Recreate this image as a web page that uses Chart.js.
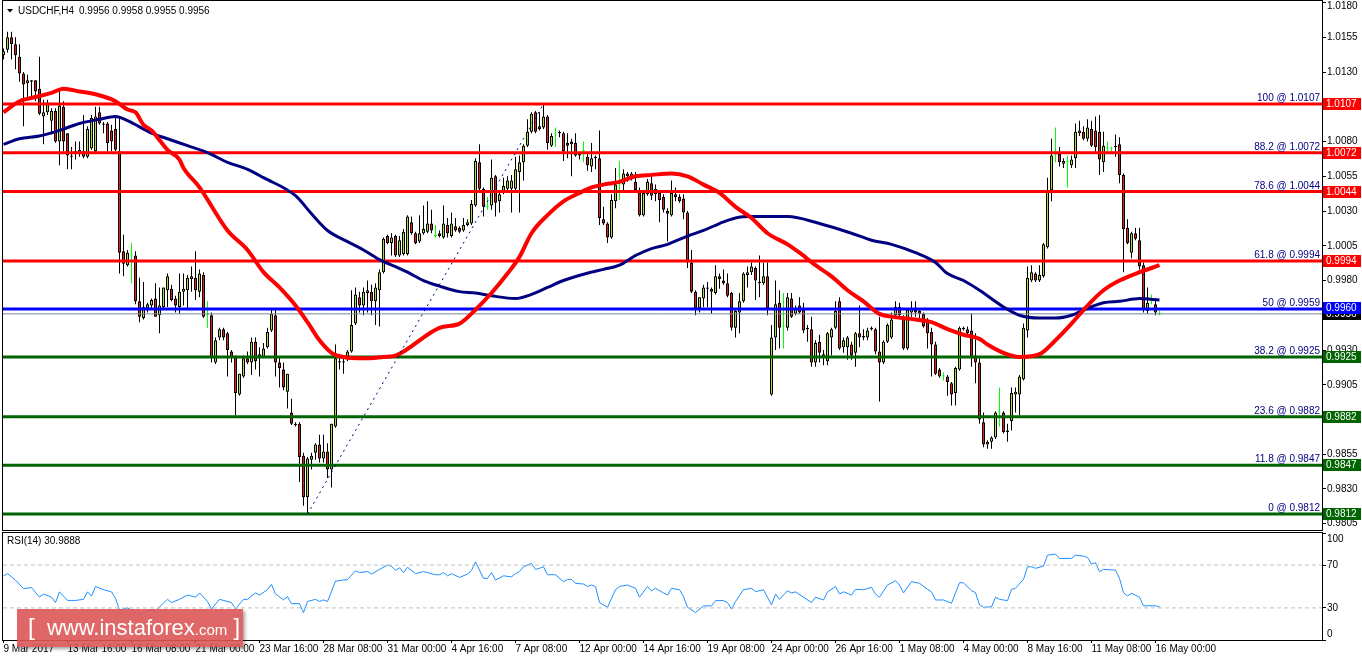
<!DOCTYPE html>
<html>
<head>
<meta charset="utf-8">
<script src="https://cdn.jsdelivr.net/npm/chart.js@4.4.0/dist/chart.umd.min.js"></script>
<style>
  html, body { margin: 0; padding: 0; background: #fff; }
  body { width: 1362px; height: 661px; position: relative; overflow: hidden; font-family: 'Liberation Sans', Arial, sans-serif; }
  #price { position: absolute; left: 0; top: 0; }
  #rsi { position: absolute; left: 0; top: 531px; }
  .stamp {
    position: absolute; left: 17px; top: 609px; width: 226px; height: 38px;
    background: rgba(221, 86, 86, 0.9); box-shadow: 2px 2px 3px rgba(0, 0, 0, 0.35);
    color: #fff; white-space: nowrap; line-height: 36px; padding-left: 11px; box-sizing: border-box;
    font-family: 'Liberation Sans', Arial, sans-serif; font-size: 22px;
  }
  .stamp .br { font-size: 24px; font-weight: 300; }
  .stamp .com { font-size: 15px; }
</style>
</head>
<body>
<canvas id="price" width="1362" height="531"></canvas>
<canvas id="rsi" width="1362" height="130"></canvas>
<div class="stamp"><span class="br">[</span>&nbsp; www.instaforex<span class="com">.com</span>&nbsp;<span class="br">]</span></div>
<script>
// USDCHF H4 candles, bar 0 = 9 Mar 2017 00:00
const opens = [
  1.0142, 1.0146, 1.0155, 1.0150, 1.0141, 1.0129, 1.0122, 1.0123, 1.0124, 1.0118,
  1.0098, 1.0101, 1.0095, 1.0102, 1.0080, 1.0105, 1.0086, 1.0070, 1.0073, 1.0072,
  1.0073, 1.0069, 1.0075, 1.0073, 1.0101, 1.0093, 1.0093, 1.0088, 1.0089, 1.0073,
  1.0001, 0.9991, 0.9998, 0.9998, 0.9965, 0.9953, 0.9960, 0.9962, 0.9967, 0.9955,
  0.9961, 0.9973, 0.9974, 0.9967, 0.9961, 0.9972, 0.9973, 0.9981, 0.9982, 0.9972,
  0.9984, 0.9955, 0.9955, 0.9921, 0.9939, 0.9945, 0.9942, 0.9929, 0.9925, 0.9898,
  0.9911, 0.9924, 0.9921, 0.9936, 0.9927, 0.9925, 0.9932, 0.9944, 0.9955, 0.9921,
  0.9916, 0.9900, 0.9885, 0.9877, 0.9877, 0.9854, 0.9824, 0.9851, 0.9856, 0.9862,
  0.9852, 0.9857, 0.9844, 0.9875, 0.9922, 0.9922, 0.9924, 0.9929, 0.9949, 0.9968,
  0.9962, 0.9971, 0.9972, 0.9965, 0.9973, 0.9986, 1.0012, 1.0007, 1.0012, 0.9998,
  0.9999, 0.9999, 1.0022, 1.0014, 1.0008, 1.0014, 1.0015, 1.0021, 1.0012, 1.0014,
  1.0011, 1.0020, 1.0012, 1.0019, 1.0018, 1.0016, 1.0020, 1.0021, 1.0034, 1.0065,
  1.0046, 1.0033, 1.0034, 1.0055, 1.0037, 1.0043, 1.0046, 1.0046, 1.0046, 1.0058,
  1.0065, 1.0077, 1.0087, 1.0101, 1.0091, 1.0090, 1.0098, 1.0077, 1.0085, 1.0087,
  1.0086, 1.0079, 1.0080, 1.0079, 1.0071, 1.0073, 1.0069, 1.0062, 1.0069, 1.0068,
  1.0024, 1.0021, 1.0011, 1.0037, 1.0049, 1.0049, 1.0057, 1.0055, 1.0051, 1.0045,
  1.0027, 1.0042, 1.0050, 1.0042, 1.0043, 1.0040, 1.0030, 1.0027, 1.0042, 1.0040,
  1.0039, 1.0029, 0.9993, 0.9972, 0.9960, 0.9967, 0.9974, 0.9974, 0.9971, 0.9983,
  0.9980, 0.9978, 0.9971, 0.9946, 0.9957, 0.9965, 0.9984, 0.9986, 0.9989, 0.9979,
  0.9978, 0.9983, 0.9898, 0.9939, 0.9964, 0.9947, 0.9946, 0.9967, 0.9956, 0.9962,
  0.9959, 0.9945, 0.9945, 0.9921, 0.9936, 0.9927, 0.9922, 0.9939, 0.9946, 0.9965,
  0.9932, 0.9932, 0.9934, 0.9928, 0.9942, 0.9939, 0.9939, 0.9945, 0.9945, 0.9929,
  0.9921, 0.9936, 0.9939, 0.9955, 0.9961, 0.9954, 0.9931, 0.9957, 0.9959, 0.9958,
  0.9956, 0.9952, 0.9943, 0.9934, 0.9916, 0.9911, 0.9911, 0.9906, 0.9899, 0.9916,
  0.9945, 0.9945, 0.9944, 0.9926, 0.9921, 0.9878, 0.9862, 0.9864, 0.9867, 0.9885,
  0.9885, 0.9872, 0.9879, 0.9898, 0.9898, 0.9909, 0.9944, 0.9980, 0.9985, 0.9980,
  0.9983, 1.0004, 1.0045, 1.0070, 1.0071, 1.0064, 1.0065, 1.0063, 1.0068, 1.0086,
  1.0087, 1.0082, 1.0089, 1.0088, 1.0087, 1.0065, 1.0075, 1.0075, 1.0077, 1.0078,
  1.0056, 1.0018, 1.0000, 1.0014, 1.0009, 0.9991, 0.9958, 0.9965, 0.9963, 0.9956
];
const highs = [
  1.0147, 1.0159, 1.0159, 1.0155, 1.0150, 1.0130, 1.0128, 1.0124, 1.0124, 1.0141,
  1.0110, 1.0110, 1.0104, 1.0104, 1.0117, 1.0109, 1.0086, 1.0076, 1.0080, 1.0080,
  1.0099, 1.0091, 1.0099, 1.0105, 1.0105, 1.0094, 1.0094, 1.0092, 1.0097, 1.0097,
  1.0013, 1.0002, 1.0007, 1.0001, 0.9982, 0.9979, 0.9964, 0.9967, 0.9978, 0.9975,
  0.9975, 0.9985, 0.9977, 0.9969, 0.9985, 0.9985, 0.9984, 0.9990, 1.0001, 0.9988,
  0.9986, 0.9965, 0.9957, 0.9939, 0.9946, 0.9946, 0.9943, 0.9930, 0.9926, 0.9913,
  0.9926, 0.9929, 0.9939, 0.9939, 0.9932, 0.9935, 0.9946, 0.9959, 0.9959, 0.9925,
  0.9921, 0.9913, 0.9895, 0.9878, 0.9878, 0.9856, 0.9853, 0.9856, 0.9863, 0.9869,
  0.9869, 0.9863, 0.9877, 0.9934, 0.9925, 0.9925, 0.9930, 0.9973, 0.9975, 0.9972,
  0.9975, 0.9980, 0.9977, 0.9978, 0.9988, 1.0011, 1.0013, 1.0014, 1.0013, 1.0012,
  1.0017, 1.0027, 1.0026, 1.0015, 1.0027, 1.0034, 1.0037, 1.0031, 1.0020, 1.0016,
  1.0034, 1.0025, 1.0029, 1.0025, 1.0019, 1.0025, 1.0024, 1.0038, 1.0068, 1.0078,
  1.0047, 1.0040, 1.0067, 1.0056, 1.0044, 1.0054, 1.0055, 1.0056, 1.0069, 1.0070,
  1.0078, 1.0096, 1.0101, 1.0102, 1.0101, 1.0107, 1.0099, 1.0086, 1.0090, 1.0088,
  1.0087, 1.0086, 1.0082, 1.0086, 1.0072, 1.0080, 1.0071, 1.0079, 1.0070, 1.0088,
  1.0033, 1.0022, 1.0042, 1.0061, 1.0066, 1.0060, 1.0058, 1.0058, 1.0058, 1.0047,
  1.0044, 1.0053, 1.0055, 1.0049, 1.0044, 1.0042, 1.0032, 1.0052, 1.0047, 1.0042,
  1.0042, 1.0030, 1.0002, 0.9973, 0.9968, 0.9977, 0.9979, 0.9975, 0.9991, 0.9985,
  0.9988, 0.9985, 0.9972, 0.9959, 0.9971, 0.9986, 0.9990, 0.9993, 0.9990, 0.9998,
  0.9993, 0.9993, 0.9948, 0.9980, 0.9973, 0.9971, 0.9971, 0.9971, 0.9962, 0.9968,
  0.9964, 0.9948, 0.9954, 0.9937, 0.9941, 0.9930, 0.9943, 0.9946, 0.9965, 0.9968,
  0.9939, 0.9940, 0.9936, 0.9943, 0.9962, 0.9945, 0.9946, 0.9947, 0.9946, 0.9954,
  0.9937, 0.9949, 0.9957, 0.9965, 0.9964, 0.9955, 0.9960, 0.9965, 0.9965, 0.9960,
  0.9957, 0.9953, 0.9946, 0.9936, 0.9917, 0.9914, 0.9912, 0.9907, 0.9918, 0.9947,
  0.9947, 0.9947, 0.9956, 0.9942, 0.9924, 0.9885, 0.9865, 0.9868, 0.9886, 0.9903,
  0.9886, 0.9877, 0.9903, 0.9903, 0.9912, 0.9949, 0.9990, 0.9991, 0.9986, 0.9991,
  1.0007, 1.0054, 1.0082, 1.0090, 1.0076, 1.0068, 1.0070, 1.0070, 1.0093, 1.0095,
  1.0091, 1.0096, 1.0095, 1.0098, 1.0099, 1.0087, 1.0080, 1.0076, 1.0085, 1.0083,
  1.0057, 1.0024, 1.0015, 1.0018, 1.0018, 0.9993, 0.9975, 0.9970, 0.9966, 0.9958
];
const lows = [
  1.0139, 1.0144, 1.0139, 1.0132, 1.0123, 1.0091, 1.0112, 1.0112, 1.0109, 1.0099,
  1.0078, 1.0099, 1.0085, 1.0079, 1.0063, 1.0073, 1.0060, 1.0060, 1.0067, 1.0069,
  1.0068, 1.0068, 1.0074, 1.0072, 1.0092, 1.0086, 1.0073, 1.0073, 1.0073, 0.9985,
  0.9983, 0.9990, 0.9978, 0.9963, 0.9950, 0.9952, 0.9957, 0.9960, 0.9954, 0.9942,
  0.9960, 0.9961, 0.9965, 0.9957, 0.9956, 0.9962, 0.9960, 0.9972, 0.9966, 0.9968,
  0.9953, 0.9946, 0.9921, 0.9920, 0.9937, 0.9937, 0.9911, 0.9921, 0.9883, 0.9897,
  0.9910, 0.9920, 0.9912, 0.9916, 0.9911, 0.9924, 0.9931, 0.9943, 0.9911, 0.9903,
  0.9901, 0.9888, 0.9876, 0.9875, 0.9835, 0.9818, 0.9812, 0.9844, 0.9851, 0.9849,
  0.9849, 0.9838, 0.9831, 0.9874, 0.9916, 0.9913, 0.9922, 0.9928, 0.9948, 0.9957,
  0.9955, 0.9957, 0.9955, 0.9948, 0.9947, 0.9985, 1.0006, 0.9998, 0.9997, 0.9997,
  0.9998, 0.9998, 1.0013, 1.0006, 1.0007, 1.0013, 1.0014, 1.0014, 1.0011, 1.0011,
  1.0010, 1.0011, 1.0011, 1.0015, 1.0014, 1.0015, 1.0019, 1.0020, 1.0033, 1.0045,
  1.0026, 1.0031, 1.0031, 1.0026, 1.0029, 1.0042, 1.0045, 1.0029, 1.0045, 1.0029,
  1.0052, 1.0076, 1.0086, 1.0086, 1.0088, 1.0089, 1.0074, 1.0076, 1.0076, 1.0083,
  1.0066, 1.0068, 1.0055, 1.0069, 1.0067, 1.0065, 1.0059, 1.0058, 1.0060, 1.0020,
  1.0020, 1.0007, 1.0010, 1.0032, 1.0038, 1.0045, 1.0051, 1.0052, 1.0044, 1.0026,
  1.0026, 1.0041, 1.0038, 1.0037, 1.0022, 1.0029, 1.0008, 1.0026, 1.0037, 1.0036,
  1.0024, 0.9989, 0.9971, 0.9955, 0.9957, 0.9961, 0.9961, 0.9956, 0.9970, 0.9974,
  0.9977, 0.9968, 0.9944, 0.9939, 0.9942, 0.9964, 0.9975, 0.9984, 0.9966, 0.9968,
  0.9977, 0.9955, 0.9897, 0.9930, 0.9931, 0.9931, 0.9944, 0.9953, 0.9955, 0.9956,
  0.9942, 0.9936, 0.9918, 0.9918, 0.9921, 0.9919, 0.9919, 0.9926, 0.9945, 0.9930,
  0.9928, 0.9923, 0.9923, 0.9918, 0.9932, 0.9937, 0.9937, 0.9944, 0.9927, 0.9893,
  0.9920, 0.9935, 0.9938, 0.9954, 0.9954, 0.9930, 0.9930, 0.9954, 0.9954, 0.9953,
  0.9946, 0.9931, 0.9911, 0.9912, 0.9910, 0.9908, 0.9897, 0.9890, 0.9890, 0.9915,
  0.9944, 0.9941, 0.9918, 0.9906, 0.9877, 0.9860, 0.9859, 0.9859, 0.9866, 0.9875,
  0.9870, 0.9864, 0.9872, 0.9885, 0.9883, 0.9908, 0.9939, 0.9979, 0.9979, 0.9979,
  0.9982, 1.0003, 1.0037, 1.0065, 1.0062, 1.0061, 1.0047, 1.0061, 1.0061, 1.0084,
  1.0081, 1.0080, 1.0076, 1.0072, 1.0056, 1.0058, 1.0073, 1.0072, 1.0069, 1.0050,
  0.9986, 1.0006, 0.9996, 1.0009, 0.9988, 0.9957, 0.9956, 0.9963, 0.9955, 0.9955
];
const closes = [
  1.0145, 1.0155, 1.0150, 1.0142, 1.0129, 1.0121, 1.0124, 1.0124, 1.0116, 1.0100,
  1.0101, 1.0108, 1.0102, 1.0080, 1.0106, 1.0080, 1.0070, 1.0069, 1.0072, 1.0074,
  1.0069, 1.0089, 1.0097, 1.0098, 1.0093, 1.0092, 1.0079, 1.0080, 1.0074, 1.0000,
  0.9992, 1.0000, 0.9998, 0.9965, 0.9954, 0.9961, 0.9963, 0.9966, 0.9954, 0.9962,
  0.9975, 0.9983, 0.9966, 0.9962, 0.9972, 0.9974, 0.9982, 0.9983, 0.9973, 0.9985,
  0.9954, 0.9955, 0.9924, 0.9937, 0.9945, 0.9939, 0.9930, 0.9925, 0.9899, 0.9913,
  0.9924, 0.9921, 0.9936, 0.9922, 0.9925, 0.9931, 0.9943, 0.9956, 0.9921, 0.9917,
  0.9903, 0.9913, 0.9877, 0.9876, 0.9853, 0.9824, 0.9852, 0.9854, 0.9862, 0.9852,
  0.9857, 0.9844, 0.9877, 0.9924, 0.9921, 0.9921, 0.9929, 0.9948, 0.9970, 0.9962,
  0.9972, 0.9973, 0.9965, 0.9975, 0.9986, 1.0010, 1.0007, 1.0011, 0.9998, 1.0009,
  1.0015, 1.0026, 1.0014, 1.0007, 1.0014, 1.0017, 1.0021, 1.0016, 1.0012, 1.0012,
  1.0021, 1.0014, 1.0021, 1.0016, 1.0015, 1.0020, 1.0022, 1.0035, 1.0066, 1.0046,
  1.0033, 1.0033, 1.0054, 1.0036, 1.0042, 1.0048, 1.0052, 1.0052, 1.0060, 1.0065,
  1.0077, 1.0087, 1.0100, 1.0087, 1.0089, 1.0098, 1.0079, 1.0084, 1.0085, 1.0086,
  1.0073, 1.0077, 1.0078, 1.0070, 1.0070, 1.0073, 1.0063, 1.0068, 1.0068, 1.0025,
  1.0021, 1.0011, 1.0038, 1.0049, 1.0049, 1.0057, 1.0055, 1.0057, 1.0045, 1.0027,
  1.0043, 1.0051, 1.0041, 1.0046, 1.0038, 1.0031, 1.0028, 1.0043, 1.0040, 1.0037,
  1.0029, 0.9993, 0.9972, 0.9960, 0.9968, 0.9975, 0.9975, 0.9972, 0.9983, 0.9981,
  0.9978, 0.9969, 0.9946, 0.9958, 0.9965, 0.9985, 0.9986, 0.9990, 0.9980, 0.9978,
  0.9983, 0.9960, 0.9939, 0.9963, 0.9946, 0.9947, 0.9968, 0.9954, 0.9960, 0.9957,
  0.9944, 0.9946, 0.9921, 0.9935, 0.9928, 0.9924, 0.9942, 0.9945, 0.9958, 0.9931,
  0.9937, 0.9939, 0.9926, 0.9942, 0.9939, 0.9940, 0.9944, 0.9946, 0.9929, 0.9921,
  0.9936, 0.9948, 0.9952, 0.9961, 0.9955, 0.9931, 0.9959, 0.9960, 0.9957, 0.9956,
  0.9947, 0.9942, 0.9934, 0.9913, 0.9911, 0.9911, 0.9907, 0.9898, 0.9917, 0.9946,
  0.9946, 0.9942, 0.9925, 0.9921, 0.9880, 0.9862, 0.9864, 0.9867, 0.9885, 0.9885,
  0.9871, 0.9871, 0.9899, 0.9900, 0.9911, 0.9946, 0.9982, 0.9986, 0.9980, 0.9984,
  1.0006, 1.0044, 1.0070, 1.0070, 1.0065, 1.0066, 1.0065, 1.0067, 1.0087, 1.0088,
  1.0082, 1.0090, 1.0077, 1.0076, 1.0067, 1.0077, 1.0075, 1.0075, 1.0076, 1.0056,
  1.0017, 1.0007, 1.0014, 1.0010, 0.9990, 0.9959, 0.9964, 0.9965, 0.9957, 0.9956
];

// moving averages at some bars
const redMaIdx = [0, 4, 8, 12, 15, 19, 23, 28, 31, 33, 35, 37, 39, 41, 44, 45, 49, 56, 61, 65, 69, 73, 76, 79, 82, 85, 90, 95, 98, 109, 114, 118, 122, 126, 129, 132, 136, 140, 144, 147, 150, 154, 158, 162, 167, 171, 175, 179, 183, 187, 191, 196, 199, 203, 207, 211, 215, 219, 222, 228, 232, 236, 240, 244, 246, 250, 254, 259, 263, 267, 271, 275, 279, 284, 289];
const redMaVal = [1.0101, 1.0109, 1.0112, 1.0115, 1.0118, 1.0116, 1.0114, 1.0109, 1.0103, 1.0101, 1.0092, 1.0088, 1.0081, 1.0074, 1.0067, 1.0061, 1.0047, 1.0016, 1.0002, 0.9986, 0.9975, 0.9962, 0.9950, 0.9937, 0.9928, 0.9925, 0.9924, 0.9925, 0.9926, 0.9946, 0.9949, 0.9959, 0.9971, 0.9985, 0.9997, 1.0014, 1.0027, 1.0037, 1.0043, 1.0047, 1.0049, 1.0051, 1.0055, 1.0056, 1.0057, 1.0055, 1.0049, 1.0043, 1.0033, 1.0025, 1.0014, 1.0006, 1.0000, 0.9991, 0.9983, 0.9973, 0.9965, 0.9956, 0.9954, 0.9952, 0.9950, 0.9945, 0.9941, 0.9938, 0.9934, 0.9928, 0.9925, 0.9927, 0.9937, 0.9949, 0.9962, 0.9973, 0.9980, 0.9986, 0.9991];
const blueMaIdx = [0, 4, 9, 14, 19, 24, 28, 31, 37, 41, 46, 51, 56, 61, 65, 73, 77, 81, 86, 90, 94, 98, 101, 105, 109, 114, 118, 122, 128, 132, 136, 140, 147, 150, 154, 158, 162, 166, 171, 175, 179, 183, 187, 191, 196, 204, 212, 217, 222, 228, 233, 236, 240, 244, 250, 254, 259, 263, 267, 271, 275, 279, 284, 289];
const blueMaVal = [1.0078, 1.0082, 1.0084, 1.0088, 1.0093, 1.0096, 1.0098, 1.0095, 1.0086, 1.0082, 1.0077, 1.0072, 1.0065, 1.0060, 1.0054, 1.0041, 1.0028, 1.0016, 1.0008, 1.0002, 0.9995, 0.9990, 0.9986, 0.9980, 0.9976, 0.9972, 0.9971, 0.9969, 0.9967, 0.9970, 0.9975, 0.9980, 0.9986, 0.9988, 0.9991, 0.9998, 1.0003, 1.0006, 1.0012, 1.0016, 1.0021, 1.0025, 1.0026, 1.0026, 1.0026, 1.0021, 1.0014, 1.0009, 1.0006, 1.0000, 0.9993, 0.9985, 0.9980, 0.9973, 0.9961, 0.9955, 0.9953, 0.9953, 0.9955, 0.9960, 0.9964, 0.9965, 0.9967, 0.9966];

// RSI(14)
const rsiIdx = [0, 1, 3, 5, 7, 9, 10, 12, 13, 14, 16, 18, 20, 21, 22, 23, 25, 27, 28, 29, 31, 34, 36, 38, 41, 42, 44, 46, 48, 49, 51, 52, 54, 57, 58, 60, 61, 63, 64, 66, 67, 68, 70, 71, 72, 74, 75, 76, 78, 79, 80, 81, 83, 86, 88, 89, 91, 92, 94, 96, 97, 98, 99,
  100, 101, 103, 105, 108, 109, 110, 111, 112, 114, 116, 117, 118, 120, 121, 122, 123, 125, 127, 128, 129, 130, 132, 133, 134, 135, 136, 138, 140, 141, 142, 143, 145, 146, 147, 148, 149, 151, 153, 154, 156, 158, 159, 161, 162, 163, 165, 166, 167, 169, 170, 171, 173, 175, 177, 178, 180, 181, 182, 183, 185, 187, 188, 190, 192, 193, 194, 196, 197, 198,
  200, 202, 203, 205, 206, 208, 209, 210, 212, 213, 215, 217, 218, 219, 221, 223, 224, 225, 227, 229, 231, 232, 233, 235, 237, 239, 240, 242, 243, 244, 245, 247, 248, 249, 251, 252, 253, 255, 256, 257, 258, 260, 261, 263, 264, 267, 268, 270, 271, 272, 273, 274, 275, 278, 279, 280, 281, 282, 284, 285, 288, 289];
const rsiVal = [60, 62, 56, 48, 49, 40, 43, 40, 35, 45, 37, 37, 38, 45, 41, 50, 47, 45, 39, 28, 30, 23.5, 27.5, 27.5, 38, 35, 38, 42, 40, 44, 36, 29, 38, 35, 29, 38, 38, 44, 42, 47, 52, 43, 37.5, 40.5, 34, 34, 25.6, 36, 38, 36, 37.5, 36, 55, 56.5, 64.7, 63, 64, 61.6, 66, 70, 69, 65, 67.5,
  63, 68, 62, 64, 61, 61, 63, 60, 62, 58.5, 61.6, 65, 73, 57.6, 57.6, 63, 56, 60, 59, 62, 64, 68.5, 71.6, 66, 67, 68.5, 61, 61, 54.5, 56.6, 56.6, 53, 52.3, 50, 51.4, 50, 35, 30.6, 47, 50, 51.4, 48.3, 40, 50, 45.8, 48.3, 44, 42, 48.3, 47, 40.5, 30.6, 25.6, 31.9, 31.9, 36.8, 36.8, 35, 28.8, 35.9, 47, 48.3, 45.2, 47, 32.8, 43, 38, 46, 44, 45,
  40, 35, 40, 37.4, 45, 50, 43, 45, 42, 47.4, 47, 49.2, 43, 40, 51.4, 55.4, 51.4, 44, 54.5, 53, 47.4, 45, 37.4, 37.4, 34.4, 53.5, 53.5, 46, 44.3, 32.8, 30.6, 31, 40, 38, 36.8, 47.4, 48.3, 56.6, 68.4, 68.4, 67, 69, 79.3, 80.2, 76.2, 76.2, 79.3, 78.4, 77.2, 71, 72.2, 63.8, 66, 65.3, 57.6, 44.2, 41.2, 43.7, 40, 32, 32, 31];

// time axis: a label every 16 bars
const tickIdx = [0, 16, 32, 48, 64, 80, 96, 112, 128, 144, 160, 176, 192, 208, 224, 240, 256, 272, 288];
const tickLabels = ['9 Mar 2017', '13 Mar 16:00', '16 Mar 08:00', '21 Mar 00:00', '23 Mar 16:00', '28 Mar 08:00',
  '31 Mar 00:00', '4 Apr 16:00', '7 Apr 08:00', '12 Apr 00:00', '14 Apr 16:00', '19 Apr 08:00', '24 Apr 00:00',
  '26 Apr 16:00', '1 May 08:00', '4 May 00:00', '8 May 16:00', '11 May 08:00', '16 May 00:00'];

const priceTicks = [0.9805, 0.9830, 0.9855, 0.9880, 0.9905, 0.9930, 0.9955, 0.9980, 1.0005, 1.0030, 1.0055, 1.0080, 1.0105, 1.0130, 1.0155, 1.0180];

// fibonacci retracement (0 @ 0.9812 .. 100 @ 1.0107)
const fibLevels = ['100', '88.2', '78.6', '61.8', '50', '38.2', '23.6', '11.8', '0'];
const fibPrices = [1.0107, 1.0072, 1.0044, 0.9994, 0.99595, 0.9925, 0.9882, 0.9847, 0.9812];
const fibShown = ['1.0107', '1.0072', '1.0044', '0.9994', '0.9959', '0.9925', '0.9882', '0.9847', '0.9812'];
const fibTags = ['1.0107', '1.0072', '1.0044', '0.9994', '0.9960', '0.9925', '0.9882', '0.9847', '0.9812'];
const fibColors = ['#ff0000', '#ff0000', '#ff0000', '#ff0000', '#0000ff', '#006400', '#006400', '#006400', '#006400'];
const trendFrom = [76, 0.9812];
const trendTo = [135, 1.0107];
const lastPrice = 0.9956;

const xMin = -0.125, xMax = 329.625;
const FONT = "'Liberation Sans', Arial, sans-serif";
Chart.defaults.font.family = FONT;
Chart.defaults.font.size = 10;
Chart.defaults.color = '#000';

const upFill = '#a8e03a', downFill = '#e01c1c', dojiColor = '#00ff00';
const isDoji = i => opens[i] === closes[i];

const wickData = opens.map((o, i) => ({ x: i, y: [lows[i], highs[i]] }));
const bodyData = opens.map((o, i) => ({ x: i, y: [o, closes[i]] }));
const hline = v => [{ x: xMin, y: v }, { x: xMax, y: v }];

// keep the plot box fixed, labels may hang over the edges
const noPad = s => { s.paddingTop = 0; s.paddingBottom = 0; s.paddingLeft = 0; s.paddingRight = 0; };

const fibSets = fibPrices.map((p, k) => ({
  type: 'line', data: hline(p), borderColor: fibColors[k], borderWidth: 3,
  pointRadius: 0, order: 2
}));

const priceOverlay = {
  id: 'priceOverlay',
  afterDraw(chart) {
    const { ctx, chartArea: a, scales: { y } } = chart;
    ctx.save();
    // frame
    ctx.strokeStyle = '#000';
    ctx.lineWidth = 1;
    ctx.strokeRect(2.5, 0.5, 1320, 530);
    // header
    ctx.fillStyle = '#000';
    ctx.beginPath();
    ctx.moveTo(7, 9); ctx.lineTo(13, 9); ctx.lineTo(10, 12.5); ctx.closePath(); ctx.fill();
    ctx.font = '10px ' + FONT;
    ctx.textBaseline = 'middle';
    ctx.textAlign = 'left';
    ctx.fillText('USDCHF,H4', 18, 11);
    ctx.fillText('0.9956 0.9958 0.9955 0.9956', 79, 11);
    // top axis label sits just under the frame
    ctx.fillText(priceTicks[priceTicks.length - 1].toFixed(4), a.right + 5, 6);
    // fib level captions
    ctx.fillStyle = '#000080';
    ctx.textAlign = 'right';
    ctx.textBaseline = 'alphabetic';
    fibPrices.forEach((p, k) => {
      const py = y.getPixelForValue(p);
      ctx.fillText(fibLevels[k] + ' @ ' + fibShown[k], a.right - 2, py - 3);
    });
    // price tags on the axis
    ctx.textAlign = 'left';
    ctx.textBaseline = 'middle';
    const tag = (v, txt, bg) => {
      const py = Math.round(y.getPixelForValue(v));
      ctx.fillStyle = bg;
      ctx.fillRect(a.right + 1, py - 6, 38, 12);
      ctx.fillStyle = '#fff';
      ctx.fillText(txt, a.right + 4, py + 0.5);
    };
    tag(lastPrice, '0.9956', '#000');
    fibPrices.forEach((p, k) => tag(k === 4 ? 0.9960 : p, fibTags[k], fibColors[k]));
    ctx.restore();
  }
};

new Chart(document.getElementById('price'), {
  type: 'line',
  data: {
    datasets: [
      { type: 'line', data: [{ x: trendFrom[0], y: trendFrom[1] }, { x: trendTo[0], y: trendTo[1] }],
        borderColor: '#000080', borderWidth: 1, borderDash: [2, 4], pointRadius: 0, order: 0 },
      { type: 'line', data: redMaIdx.map((x, k) => ({ x, y: redMaVal[k] })), borderColor: '#ff0000',
        borderWidth: 4, pointRadius: 0, cubicInterpolationMode: 'monotone', order: 1 },
      { type: 'line', data: blueMaIdx.map((x, k) => ({ x, y: blueMaVal[k] })), borderColor: '#000080',
        borderWidth: 3, pointRadius: 0, cubicInterpolationMode: 'monotone', order: 1 },
      ...fibSets,
      { type: 'line', data: hline(lastPrice), borderColor: '#778899', borderWidth: 1, pointRadius: 0, order: 3 },
      { type: 'bar', data: bodyData, barThickness: 3, grouped: false, inflateAmount: 0, minBarLength: 1,
        borderSkipped: false, borderWidth: 1,
        backgroundColor: bodyData.map((d, i) => isDoji(i) ? dojiColor : (closes[i] > opens[i] ? upFill : downFill)),
        borderColor: bodyData.map((d, i) => isDoji(i) ? dojiColor : '#000'), order: 5 },
      { type: 'bar', data: wickData, barThickness: 1, grouped: false, inflateAmount: 0, borderWidth: 0,
        backgroundColor: wickData.map((d, i) => isDoji(i) ? dojiColor : '#000'), order: 6 }
    ]
  },
  options: {
    responsive: false, animation: false, devicePixelRatio: 1,
    layout: { padding: { left: 3, top: 1, right: 0, bottom: 1 } },
    plugins: { legend: { display: false }, tooltip: { enabled: false } },
    events: [],
    scales: {
      x: { type: 'linear', min: xMin, max: xMax, offset: false, display: false },
      y: {
        type: 'linear', position: 'right', min: 0.98005, max: 1.01811, beginAtZero: false,
        afterBuildTicks: s => { s.ticks = priceTicks.map(v => ({ value: v })); },
        afterFit: s => { s.width = 40; noPad(s); },
        grid: { drawOnChartArea: false, tickLength: 4, color: '#000' },
        border: { color: '#000' },
        ticks: { autoSkip: false, padding: 1, color: '#000',
          callback: v => v === priceTicks[priceTicks.length - 1] ? '' : v.toFixed(4) }
      }
    }
  },
  plugins: [priceOverlay]
});

const rsiOverlay = {
  id: 'rsiOverlay',
  afterDraw(chart) {
    const { ctx, scales: { y } } = chart;
    ctx.save();
    ctx.strokeStyle = '#000';
    ctx.lineWidth = 1;
    ctx.strokeRect(2.5, 1.5, 1320, 108);
    ctx.fillStyle = '#000';
    ctx.font = '10px ' + FONT;
    ctx.textBaseline = 'middle';
    ctx.textAlign = 'left';
    ctx.fillText('RSI(14) 30.9888', 7, 10);
    ctx.fillText('100', 1327, y.getPixelForValue(100) + 6);
    ctx.fillText('0', 1327, y.getPixelForValue(0) - 6);
    ctx.restore();
  }
};

new Chart(document.getElementById('rsi'), {
  type: 'line',
  data: {
    datasets: [
      { data: hline(70), borderColor: '#c0c0c0', borderWidth: 1, borderDash: [4, 3], pointRadius: 0 },
      { data: hline(30), borderColor: '#c0c0c0', borderWidth: 1, borderDash: [4, 3], pointRadius: 0 },
      { data: rsiIdx.map((x, k) => ({ x, y: rsiVal[k] })), borderColor: '#1e90ff', borderWidth: 1,
        pointRadius: 0, tension: 0 }
    ]
  },
  options: {
    responsive: false, animation: false, devicePixelRatio: 1,
    layout: { padding: { left: 3, top: 2, right: 0, bottom: 0 } },
    plugins: { legend: { display: false }, tooltip: { enabled: false } },
    events: [],
    scales: {
      x: {
        type: 'linear', min: xMin, max: xMax, offset: false,
        afterBuildTicks: s => { s.ticks = tickIdx.map(v => ({ value: v })); },
        afterFit: s => { s.height = 21; noPad(s); },
        grid: { drawOnChartArea: false, tickLength: 3, color: '#000' },
        border: { color: '#000' },
        ticks: { autoSkip: false, maxRotation: 0, align: 'start', padding: 0, color: '#000',
          callback: v => tickLabels[tickIdx.indexOf(v)] }
      },
      y: {
        type: 'linear', position: 'right', min: 0, max: 100,
        afterBuildTicks: s => { s.ticks = [0, 30, 70, 100].map(v => ({ value: v })); },
        afterFit: s => { s.width = 40; noPad(s); },
        grid: { drawOnChartArea: false, tickLength: 4, color: '#000' },
        border: { color: '#000' },
        ticks: { autoSkip: false, padding: 1, color: '#000',
          callback: v => (v === 30 || v === 70) ? String(v) : '' }
      }
    }
  },
  plugins: [rsiOverlay]
});
</script>
</body>
</html>
